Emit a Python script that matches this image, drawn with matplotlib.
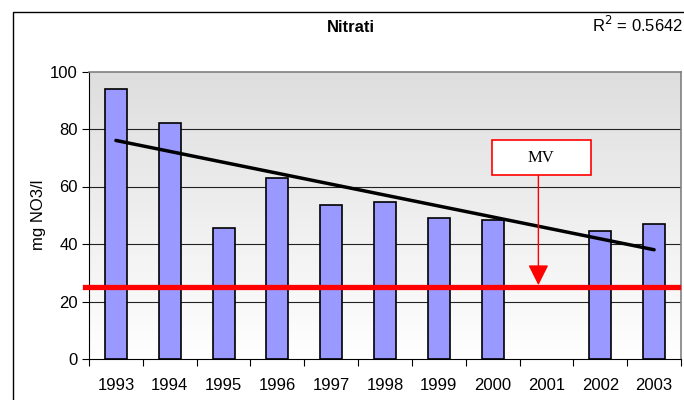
import numpy as np
import matplotlib.pyplot as plt
from matplotlib.colors import LinearSegmentedColormap
from matplotlib.patches import Rectangle

# data
years = ['1993', '1994', '1995', '1996', '1997', '1998', '1999', '2000', '2001', '2002', '2003']
nitrati = [94, 82, 45.5, 63, 53.5, 54.5, 49, 48.5, np.nan, 44.5, 47]
mv_limit = 25
y_ticks = [0, 20, 40, 60, 80, 100]
r2_label = 'R$^2$ = 0.5642'

plt.rcParams['font.family'] = ['Liberation Sans', 'DejaVu Sans']

fig = plt.figure(figsize=(6.84, 4.0), dpi=100)
fig.patch.set_facecolor('white')

# outer chart frame (cut off at right and bottom)
fig.patches.append(Rectangle((13 / 684, -0.5), 2, 0.5 + 1 - 12 / 400,
                             transform=fig.transFigure, fill=False,
                             edgecolor='black', linewidth=1.0))

ax = fig.add_axes([89 / 684, 1 - 359 / 400, (681 - 89) / 684, (359 - 71.5) / 400])

x = np.arange(len(years))
ax.set_xlim(-0.5, len(years) - 0.5)
ax.set_ylim(0, 100)

# gradient background (grey top -> white bottom)
grad = np.linspace(0, 1, 256).reshape(-1, 1)
cmap = LinearSegmentedColormap.from_list('bg', ['#ffffff', '#dedede'])
ax.imshow(grad, extent=(-0.5, len(years) - 0.5, 0, 100), origin='lower',
          cmap=cmap, aspect='auto', zorder=0)

for t in y_ticks[1:-1]:
    ax.axhline(t, color='#222222', linewidth=0.8, zorder=1)

vals = np.array(nitrati, dtype=float)
ok = ~np.isnan(vals)
ax.bar(x[ok], vals[ok], width=0.41, color='#9999ff',
       edgecolor='black', linewidth=1.2, zorder=2)

# linear trend (Excel style, missing year skipped)
coef = np.polyfit(x[ok] + 1, vals[ok], 1)
xt = np.array([x[0], x[-1]])
ax.plot(xt, np.polyval(coef, xt + 1), color='black', linewidth=2.5,
        solid_capstyle='round', zorder=4)

# MV limit line
ax.plot([-0.57, len(years) - 0.56], [mv_limit, mv_limit], color='#ff0000',
        linewidth=3.8, zorder=3, clip_on=False)

# MV callout
ax.annotate('', xy=(7.85, mv_limit + 0.7), xytext=(7.85, 63.9),
            arrowprops=dict(arrowstyle='-|>,head_length=0.9,head_width=0.45',
                            color='#ff0000', lw=1.0,
                            mutation_scale=14, shrinkA=0, shrinkB=0),
            zorder=5)
ax.add_patch(Rectangle((6.98, 63.9), 1.85, 12.1, facecolor='white',
                       edgecolor='#ff0000', linewidth=1.2, zorder=6))
ax.text(7.905, 70, 'MV', ha='center', va='center', fontsize=12,
        family=['Liberation Serif', 'DejaVu Serif'], zorder=7)

ax.set_yticks(y_ticks)
ax.set_yticklabels([str(t) for t in y_ticks], fontsize=12)
ax.set_xticks(x)
ax.set_xticklabels(years, fontsize=12)
ax.set_xticks(np.arange(-0.5, len(years)), minor=True)
ax.tick_params(axis='x', which='major', length=0, pad=14)
ax.tick_params(axis='x', which='minor', length=5, width=0.8, direction='out')
ax.tick_params(axis='y', length=5, width=0.8, direction='out', pad=3)

for side in ['top', 'right']:
    ax.spines[side].set_color('#808080')
    ax.spines[side].set_linewidth(1.2)
for side in ['left', 'bottom']:
    ax.spines[side].set_color('black')
    ax.spines[side].set_linewidth(0.8)

ax.set_ylabel('mg NO3/l', fontsize=12, labelpad=3)

fig.text(351 / 684, 1 - 27 / 400, 'Nitrati', ha='center', va='center',
         fontsize=12, fontweight='bold')
fig.text(683 / 684, 1 - 25 / 400, r2_label, ha='right', va='center',
         fontsize=12)

fig.savefig('out.png', dpi=100)
